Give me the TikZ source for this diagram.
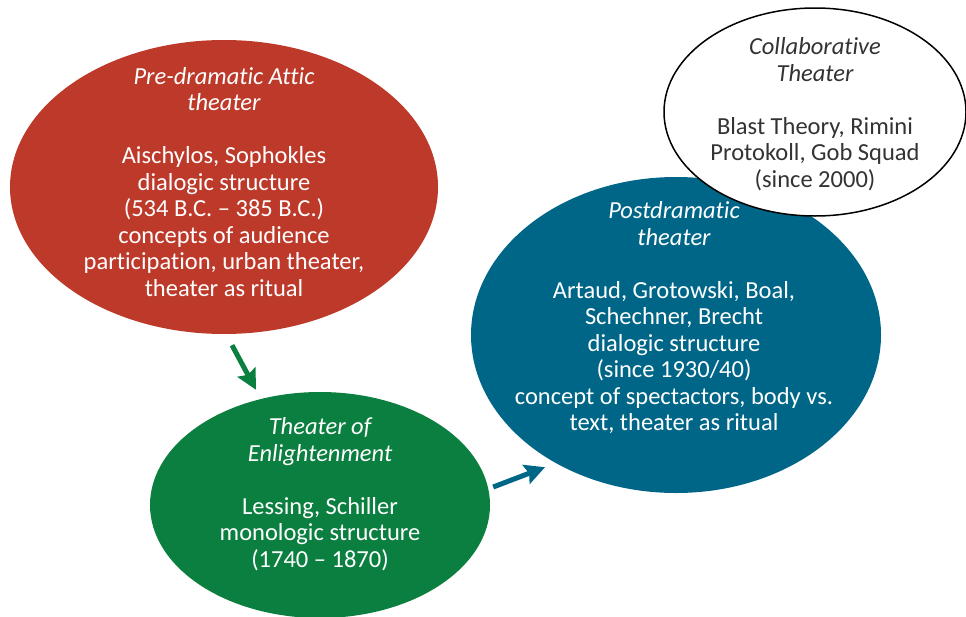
\documentclass[tikz,border=0pt]{standalone}
\usepackage{fontspec}
\setmainfont{Carlito}[Ligatures=NoCommon]
\usetikzlibrary{shapes.geometric,arrows.meta,calc}

\definecolor{atticred}{HTML}{BD3A2B}
\definecolor{enlightgreen}{HTML}{0B7F40}
\definecolor{postblue}{HTML}{006687}
\definecolor{collabgray}{HTML}{333333}

\begin{document}
\begin{tikzpicture}[x=1pt, y=-1pt,
		era/.style={ellipse, inner sep=0pt},
		eratext/.style={align=center, font=\fontsize{24.5}{26.5}\selectfont},
		eraarrow/.style={line width=5pt, -{Stealth[length=20pt, width=20pt, inset=3pt]}}]
	\useasboundingbox (0,0) rectangle (966,616);

	\node[era, fill=atticred, minimum width=428pt, minimum height=294pt]
		(attic) at (224, 187) {};
	\node[era, fill=enlightgreen, minimum width=340pt, minimum height=226pt]
		(enlight) at (320, 505) {};
	\node[era, fill=postblue, minimum width=410pt, minimum height=316pt]
		(post) at (676, 335) {};
	\node[era, fill=white, draw=black, line width=1.5pt, minimum width=302pt, minimum height=208pt]
		(collab) at (815, 112) {};

	\node[eratext, text=white] (attictext) at (224, 182)
		{{\itshape Pre-dramatic Attic}\\{\itshape theater}\\[26.5pt]
		Aischylos, Sophokles\\dialogic structure\\(534 B.C. -- 385 B.C.)\\
		concepts of audience\\participation, urban theater,\\theater as ritual};
	\node[eratext, text=white] (enlighttext) at (320, 494)
		{{\itshape Theater of}\\{\itshape Enlightenment}\\[26.5pt]
		Lessing, Schiller\\monologic structure\\(1740 -- 1870)};
	\node[eratext, text=white] (posttext) at (674, 318)
		{{\itshape Postdramatic}\\{\itshape theater}\\[26.5pt]
		Artaud, Grotowski, Boal,\\Schechner, Brecht\\dialogic structure\\(since 1930/40)\\
		concept of spectactors, body vs.\\text, theater as ritual};
	\node[eratext, text=collabgray] (collabtext) at (815, 114)
		{{\itshape Collaborative}\\{\itshape Theater}\\[26.5pt]
		Blast Theory, Rimini\\Protokoll, Gob Squad\\(since 2000)};

	\coordinate (a1) at ($(attic.south)+(8,11)$);
	\coordinate (a2) at ($(enlight.north)+(-64,-2)$);
	\coordinate (b1) at ($(enlight.east)+(3,-18)$);
	\coordinate (b2) at ($(post.south)+(-131,-26)$);
	\draw[eraarrow, enlightgreen] (a1) -- (a2);
	\draw[eraarrow, postblue] (b1) -- (b2);
\end{tikzpicture}
\end{document}
